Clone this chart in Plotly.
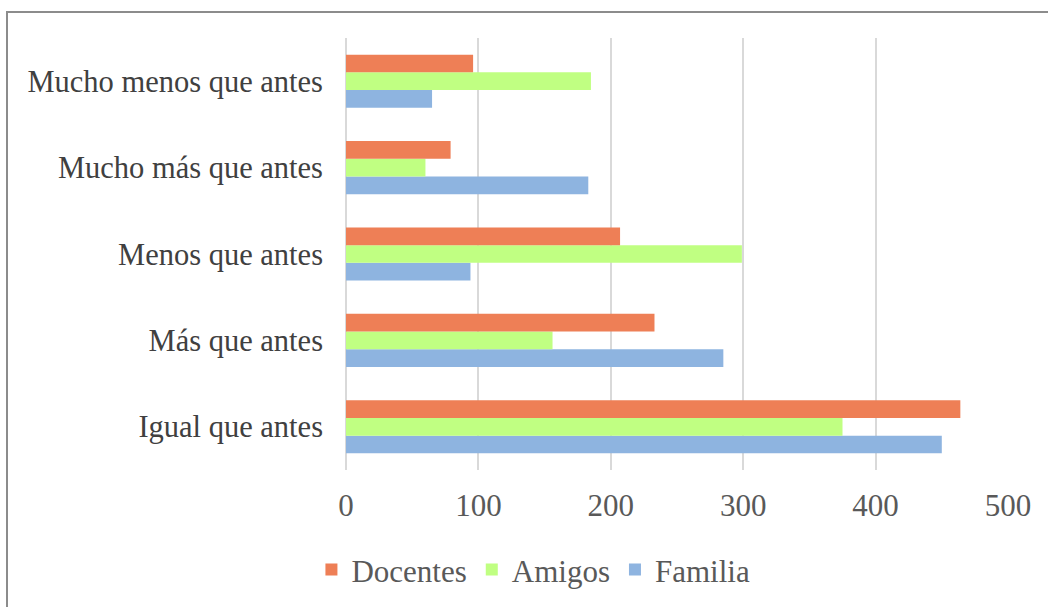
import plotly.graph_objects as go

categories = ["Igual que antes", "Más que antes", "Menos que antes", "Mucho más que antes", "Mucho menos que antes"]
docentes = [464, 233, 207, 79, 96]
amigos = [375, 156, 299, 60, 185]
familia = [450, 285, 94, 183, 65]
x_ticks = [0, 100, 200, 300, 400, 500]

FONT = "Liberation Serif"
fig = go.Figure()
fig.add_trace(go.Bar(y=categories, x=familia, name="Familia", orientation="h",
                     marker=dict(color="#8EB4E0", line=dict(width=0))))
fig.add_trace(go.Bar(y=categories, x=amigos, name="Amigos", orientation="h",
                     marker=dict(color="#C0FF82", line=dict(width=0))))
fig.add_trace(go.Bar(y=categories, x=docentes, name="Docentes", orientation="h",
                     marker=dict(color="#EE7F56", line=dict(width=0))))

L, R, T, B = 346, 40, 38, 137
W, H = 1048, 607
pw, ph = W - L - R, H - T - B

def px(xp):
    return (xp - L) / pw

def py(yp):
    return (H - B - yp) / ph

fig.update_layout(
    width=W, height=H,
    margin=dict(l=L, r=R, t=T, b=B),
    barmode="group", bargap=0.385, bargroupgap=0,
    plot_bgcolor="white", paper_bgcolor="white",
    font=dict(family=FONT, size=30, color="#404040"),
    xaxis=dict(range=[0, 500], tickvals=x_ticks, showgrid=True, gridcolor="#D9D9D9", gridwidth=2,
               zeroline=True, zerolinecolor="#D9D9D9", zerolinewidth=2, showline=False,
               tickfont=dict(family=FONT, size=31, color="#595959"), ticklabelstandoff=14),
    yaxis=dict(categoryorder="array", categoryarray=categories, showgrid=False,
               showline=False, zeroline=False,
               tickfont=dict(family=FONT, size=30.5, color="#404040"), ticklabelstandoff=22),
    legend=dict(orientation="h", xref="container", yref="container", x=0.509, y=0.061,
                xanchor="center", yanchor="middle", traceorder="reversed",
                font=dict(family=FONT, size=31, color="#595959"), itemwidth=30),
    showlegend=True,
    shapes=[dict(type="path", xref="paper", yref="paper",
                 path=f"M {px(7)} {py(612)} L {px(7)} {py(12)} L {px(1055)} {py(12)}",
                 line=dict(color="#8C8C8C", width=2))],
)

fig.write_html("out.html", config={"displayModeBar": False},
               post_script="document.body.style.margin='0';document.body.style.overflow='hidden';")
